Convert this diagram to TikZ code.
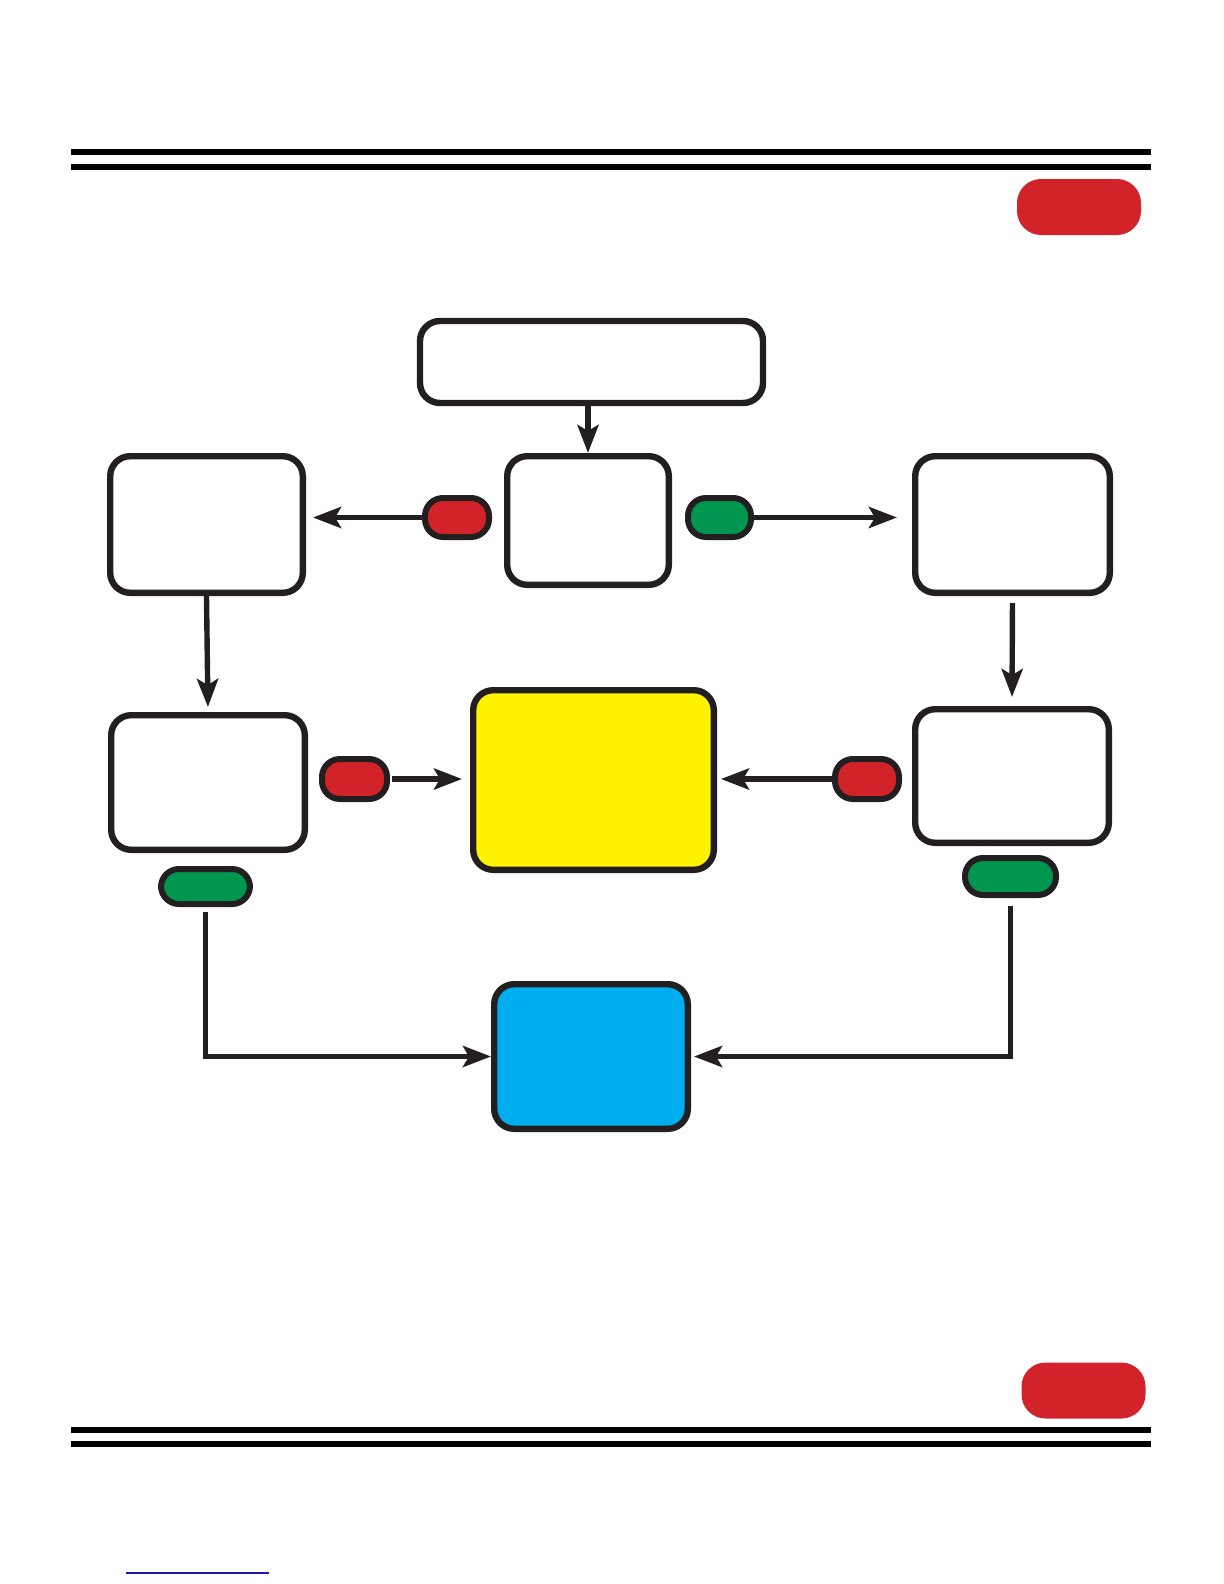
\documentclass[tikz,border=0pt]{standalone}
\usetikzlibrary{arrows.meta}
\definecolor{ink}{HTML}{231F20}
\definecolor{pillred}{HTML}{D2232A}
\definecolor{pillgreen}{HTML}{009650}
\definecolor{boxyellow}{HTML}{FFF200}
\definecolor{boxblue}{HTML}{00AEEF}
\definecolor{ulblue}{HTML}{1A1AA6}
\begin{document}
\begin{tikzpicture}[x=0.5pt,y=-0.5pt,
  box/.style={draw=ink, line width=3.2pt, rounded corners=10pt, fill=white, inner sep=0pt},
  pill/.style={draw=ink, line width=3pt, rounded corners=9pt, inner sep=0pt},
  badge/.style={fill=pillred, rounded corners=12pt, inner sep=0pt, minimum width=62pt, minimum height=28pt},
  conn/.style={draw=ink, line width=2.7pt, -{Stealth[length=14pt,width=10.5pt,inset=3pt]}},
  hrule/.style={line width=3pt, black}]
\useasboundingbox (0,0) rectangle (1224,1584);
% header / footer rules
\draw[hrule] (71,151.5) -- (1151,151.5);
\draw[hrule] (71,166.5) -- (1151,166.5);
\draw[hrule] (71,1430) -- (1151,1430);
\draw[hrule] (71,1444) -- (1151,1444);
\draw[ulblue, line width=0.8pt] (126,1573) -- (269,1573);
% badges
\node[badge] (badgetop) at (1079,207) {};
\node[badge] (badgebot) at (1083.5,1390.5) {};
% boxes
\node[box, minimum width=171.5pt, minimum height=41pt] (top) at (591.5,362) {};
\node[box, minimum width=80.8pt, minimum height=64.3pt] (center) at (588,520.5) {};
\node[box, minimum width=96.3pt, minimum height=68.3pt] (left) at (206.5,524.5) {};
\node[box, minimum width=97.3pt, minimum height=68.3pt] (right) at (1012.5,524.5) {};
\node[box, minimum width=96.8pt, minimum height=67.3pt] (LB) at (208,782.5) {};
\node[box, fill=boxyellow, minimum width=120.3pt, minimum height=89.8pt] (yellow) at (593.5,780) {};
\node[box, minimum width=96.8pt, minimum height=66.8pt] (RB) at (1012,776) {};
\node[box, fill=boxblue, minimum width=96.8pt, minimum height=72.3pt] (blue) at (591,1056.5) {};
% pills
\node[pill, fill=pillred, minimum width=32pt, minimum height=19.5pt] (L1) at (457,517.5) {};
\node[pill, fill=pillgreen, minimum width=31.5pt, minimum height=19.5pt] (R1) at (719.5,517.5) {};
\node[pill, fill=pillred, minimum width=32.5pt, minimum height=20pt] (L2) at (354.5,779) {};
\node[pill, fill=pillred, minimum width=32pt, minimum height=20pt] (R2) at (867,779) {};
\node[pill, fill=pillgreen, minimum width=44.5pt, minimum height=17.5pt] (L3) at (205.5,886.5) {};
\node[pill, fill=pillgreen, minimum width=45.5pt, minimum height=18.5pt] (R3) at (1010.5,876.5) {};
% connectors
\draw[conn] (top.south -| center.north) -- (center.north);
\draw[conn, shorten >=3.5pt] (L1.west) -- (L1.west -| left.east);
\draw[conn, shorten >=7.5pt] (R1.east) -- (R1.east -| right.west);
\draw[conn, shorten >=2.5pt] (left.south) -- (LB.north);
\draw[conn, shorten <=3.5pt, shorten >=4.5pt] (right.south) -- (RB.north);
\draw[conn, shorten <=1pt, shorten >=4pt] (L2.east) -- (L2.east -| yellow.west);
\draw[conn, shorten >=2pt] (R2.west) -- (R2.west -| yellow.east);
\draw[conn, shorten <=2.5pt] (L3.south) |- (blue.west);
\draw[conn, shorten <=4pt, shorten >=1.5pt] (R3.south) |- (blue.east);
\end{tikzpicture}
\end{document}
